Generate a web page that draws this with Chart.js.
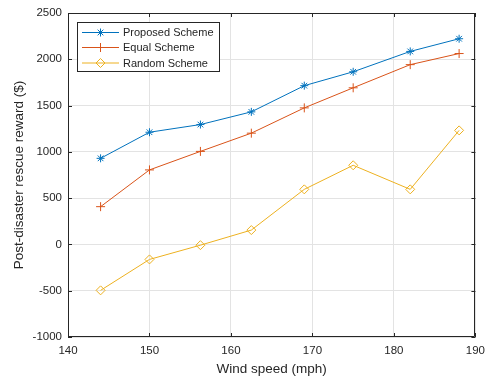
<!DOCTYPE html>
<html>
<head>
<meta charset="utf-8">
<script src="https://cdn.jsdelivr.net/npm/chart.js@4.4.0/dist/chart.umd.min.js"></script>
<style>
  html, body { margin: 0; padding: 0; background: #fff; }
  #wrap { width: 492px; height: 378px; position: relative; }
</style>
</head>
<body>
<div id="wrap"><canvas id="c" width="492" height="378"></canvas></div>
<script>
// ---- data ----
const windSpeed = [144, 150, 156.25, 162.5, 169, 175, 182, 188];
const proposed  = [930, 1212, 1295, 1432, 1715, 1865, 2085, 2222];
const equal     = [408, 805, 1005, 1202, 1475, 1692, 1942, 2062];
const random    = [-496, -162, -8, 155, 595, 855, 595, 1232];
const seriesNames = ['Proposed Scheme', 'Equal Scheme', 'Random Scheme'];
const xTicks = [140, 150, 160, 170, 180, 190];
const yTicks = [-1000, -500, 0, 500, 1000, 1500, 2000, 2500];

const colors = ['#0072BD', '#D95319', '#EDB120'];
const styles = ['star', 'cross', 'rectRot'];
const radii = [4, 4.5, 4.5];
const FONT = "'Liberation Sans', Arial, Helvetica, sans-serif";
const AXIS = '#262626';

function pts(arr) { return windSpeed.map((x, i) => ({ x: x, y: arr[i] })); }

const datasets = [proposed, equal, random].map((arr, k) => ({
  label: seriesNames[k],
  data: pts(arr),
  borderColor: colors[k],
  backgroundColor: 'rgba(0,0,0,0)',
  borderWidth: 1,
  pointStyle: styles[k],
  pointRadius: radii[k],
  pointHoverRadius: radii[k],
  pointBorderColor: colors[k],
  pointBackgroundColor: 'rgba(0,0,0,0)',
  pointBorderWidth: 1,
  showLine: true,
  tension: 0,
  fill: false
}));

const boxPlugin = {
  id: 'boxPlugin',
  afterDatasetsDraw(chart) {
    const ctx = chart.ctx;
    const a = chart.chartArea;
    const xs = chart.scales.x, ys = chart.scales.y;
    ctx.save();
    ctx.strokeStyle = AXIS;
    ctx.lineWidth = 1;
    ctx.beginPath();
    ctx.rect(Math.round(a.left) + 0.5, Math.round(a.top) + 0.5,
             Math.round(a.right - a.left) - 1, Math.round(a.bottom - a.top) - 1);
    ctx.stroke();
    const tl = 4;
    ctx.beginPath();
    xTicks.forEach(v => {
      const px = Math.round(xs.getPixelForValue(v)) + 0.5;
      ctx.moveTo(px, a.bottom); ctx.lineTo(px, a.bottom - tl);
      ctx.moveTo(px, a.top); ctx.lineTo(px, a.top + tl);
    });
    yTicks.forEach(v => {
      const py = Math.round(ys.getPixelForValue(v)) + 0.5;
      ctx.moveTo(a.left, py); ctx.lineTo(a.left + tl, py);
      ctx.moveTo(a.right, py); ctx.lineTo(a.right - tl, py);
    });
    ctx.stroke();

    // legend
    const lx = 77.5, ly = 22.5, lw = 142, lh = 49;
    ctx.fillStyle = '#fff';
    ctx.fillRect(lx, ly, lw, lh);
    ctx.strokeStyle = AXIS;
    ctx.strokeRect(lx, ly, lw, lh);
    const rowY = [32.5, 47.5, 63];
    ctx.font = '11px ' + FONT;
    ctx.textBaseline = 'middle';
    ctx.textAlign = 'left';
    chart.data.datasets.forEach((ds, k) => {
      const y = rowY[k];
      ctx.strokeStyle = ds.borderColor;
      ctx.lineWidth = 1;
      ctx.beginPath();
      ctx.moveTo(82, y); ctx.lineTo(119, y);
      ctx.stroke();
      ctx.fillStyle = 'rgba(0,0,0,0)';
      ctx.strokeStyle = ds.borderColor;
      Chart.helpers.drawPoint(ctx, {
        pointStyle: ds.pointStyle, radius: ds.pointRadius, rotation: 0, borderWidth: 1
      }, 100.5, y);
      ctx.fillStyle = AXIS;
      ctx.fillText(ds.label, 123, y + 0.5);
    });
    ctx.restore();
  }
};

const plainLabel = v => String(v);

new Chart(document.getElementById('c'), {
  type: 'scatter',
  data: { datasets: datasets },
  options: {
    responsive: false,
    animation: false,
    devicePixelRatio: 1,
    layout: { padding: { top: 13, right: 14, left: 0, bottom: 0 } },
    plugins: { legend: { display: false }, tooltip: { enabled: false } },
    scales: {
      x: {
        type: 'linear', min: 140, max: 190,
        afterFit(s) { s.height = 41; },
        afterBuildTicks(s) { s.ticks = xTicks.map(v => ({ value: v })); },
        ticks: { color: AXIS, font: { family: FONT, size: 11.5 }, padding: 7, maxRotation: 0, callback: plainLabel },
        grid: { color: '#e3e3e3', drawTicks: false, lineWidth: 1 },
        border: { display: false },
        title: { display: true, text: 'Wind speed (mph)', color: AXIS,
                 font: { family: FONT, size: 13.5 }, padding: { top: 0, bottom: 1 } }
      },
      y: {
        type: 'linear', min: -1000, max: 2500,
        afterFit(s) { s.width = 68; },
        afterBuildTicks(s) { s.ticks = yTicks.map(v => ({ value: v })); },
        ticks: { color: AXIS, font: { family: FONT, size: 11.5 }, padding: 6, callback: plainLabel },
        grid: { color: '#e3e3e3', drawTicks: false, lineWidth: 1 },
        border: { display: false },
        title: { display: true, text: 'Post-disaster rescue reward ($)', color: AXIS,
                 font: { family: FONT, size: 13.5 }, padding: { top: 11, bottom: 0 } }
      }
    }
  },
  plugins: [boxPlugin]
});
</script>
</body>
</html>
